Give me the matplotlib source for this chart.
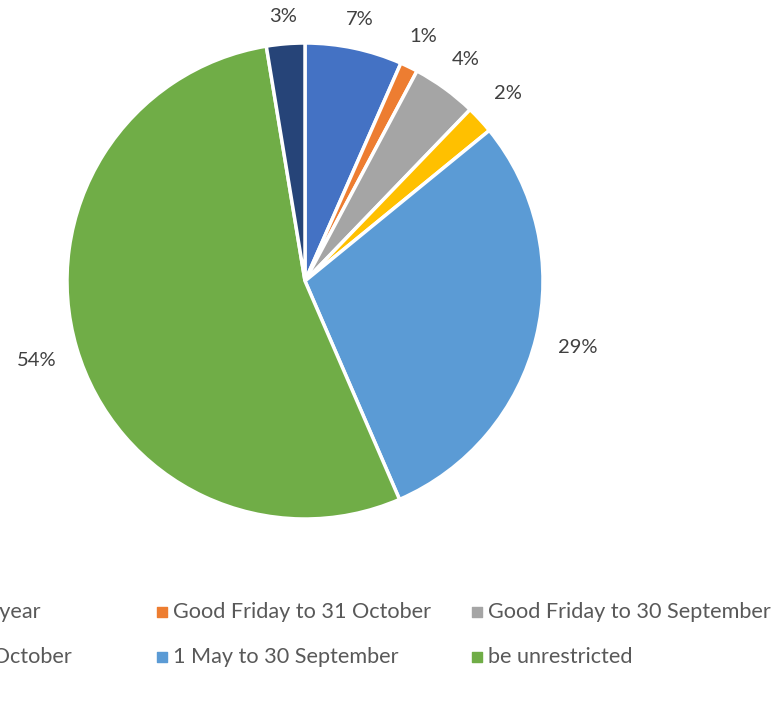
import matplotlib
matplotlib.use("Agg")
import matplotlib.pyplot as plt
import numpy as np

plt.rcParams['font.family'] = ['Lato', 'DejaVu Sans']

# share of responses per opening period (percent)
periods = ["Open all of the year", "Good Friday to 31 October", "Good Friday to 30 September",
           "1 March to 31 October", "1 May to 30 September", "be unrestricted", "Other"]
shares = [6.6, 1.2, 4.4, 1.9, 29.4, 53.9, 2.6]
colors = ["#4472C4", "#ED7D31", "#A5A5A5", "#FFC000", "#5B9BD5", "#70AD47", "#264478"]

W, H = 778, 714
fig = plt.figure(figsize=(W / 100, H / 100), dpi=100)

# pie centred at (305, 281) px with a 238 px radius
cx, cy, r = 305, 281, 238
ax = fig.add_axes([(cx - r) / W, (H - cy - r) / H, 2 * r / W, 2 * r / H])
wedges, texts, autotexts = ax.pie(
    shares, colors=colors, startangle=90, counterclock=False,
    autopct=lambda p: "%.0f%%" % p, pctdistance=1.15,
    wedgeprops=dict(edgecolor="white", linewidth=2.5),
    textprops=dict(fontsize=14.5, color="#404040"))
ax.set_xlim(-1, 1)
ax.set_ylim(-1, 1)
ax.set_aspect("equal")

# outside-end labels: push side labels out a bit further than top ones
for w, t in zip(wedges, autotexts):
    ang = np.deg2rad((w.theta1 + w.theta2) / 2)
    d = 1.11 + 0.07 * abs(np.cos(ang))
    t.set_position((d * np.cos(ang), d * np.sin(ang)))

# legend laid out in rows (first column runs off the left edge)
lg = fig.add_axes([0, 0, 1, 1], zorder=-1)
lg.set_xlim(0, W)
lg.set_ylim(H, 0)
lg.axis("off")
col_x = [-159, 162, 477]
row_y = [612, 657]
for i in range(6):
    x = col_x[i % 3]
    y = row_y[i // 3]
    lg.scatter([x], [y], marker="s", s=45, color=colors[i], clip_on=False)
    lg.text(x + 11, y, periods[i], fontsize=15.6, color="#595959",
            va="center", ha="left")

fig.savefig("out.png", dpi=100)
